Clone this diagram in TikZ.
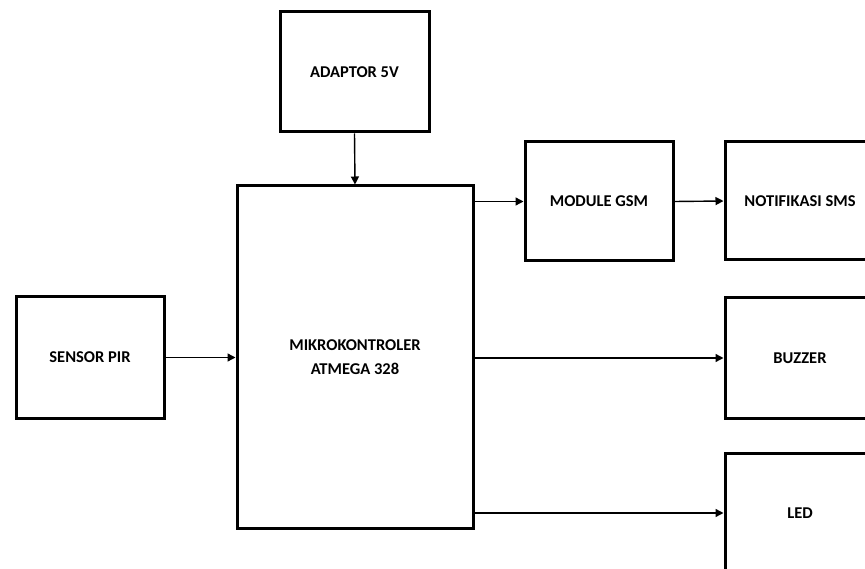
\documentclass[tikz,border=0pt]{standalone}
\usepackage{fontspec}
\setmainfont{Carlito}
\usetikzlibrary{arrows.meta}
\begin{document}
\begin{tikzpicture}[x=1pt,y=-1pt,
  blk/.style={draw=black,line width=3pt,fill=white,inner sep=0pt,align=center,
    font=\fontsize{16.5}{24}\selectfont\bfseries},
  conn/.style={line width=1.4pt,-{Triangle[length=8pt,width=8pt]}}]
\useasboundingbox (0,0) rectangle (865,569);
\node[blk,minimum width=149pt,minimum height=120pt] (adaptor) at (354.5,72) {ADAPTOR 5V};
\node[blk,minimum width=236pt,minimum height=342pt] (mk) at (355,357) {MIKROKONTROLER\\ATMEGA 328};
\node[blk,minimum width=148pt,minimum height=121pt] (pir) at (90,357.5) {SENSOR PIR};
\node[blk,minimum width=148pt,minimum height=119pt] (gsm) at (599,201.5) {MODULE GSM};
\node[blk,minimum width=150pt,minimum height=118pt] (sms) at (800,201) {NOTIFIKASI SMS};
\node[blk,minimum width=150pt,minimum height=120pt] (buzzer) at (800,358) {BUZZER};
\node[blk,minimum width=150pt,minimum height=120pt] (led) at (800,513) {LED};
\draw[conn] (adaptor.south) -- (mk.north);
\draw[conn] (pir.east) -- (mk.west |- pir.east);
\draw[conn] (mk.east |- gsm.west) -- (gsm.west);
\draw[conn] (gsm.east) -- (sms.west);
\draw[conn] (mk.east |- buzzer.west) -- (buzzer.west);
\draw[conn] (mk.east |- led.west) -- (led.west);
\end{tikzpicture}
\end{document}
